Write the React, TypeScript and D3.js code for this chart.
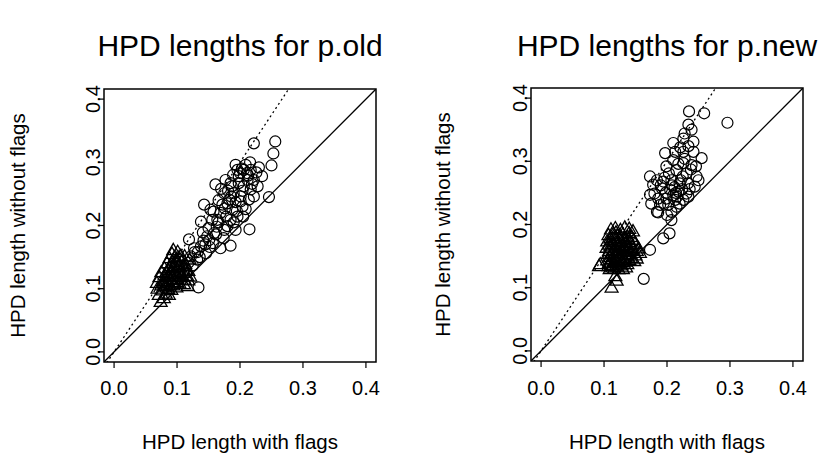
import React from "react";
import * as d3 from "d3";

type P = [number, number];

const titles = ["HPD lengths for p.old", "HPD lengths for p.new"];
const xLabel = "HPD length with flags";
const yLabel = "HPD length without flags";
const ticks = [0.0, 0.1, 0.2, 0.3, 0.4];
const dottedSlope = 1.5;

const oldCircles: P[] = [
  [0.222, 0.330], [0.256, 0.333], [0.253, 0.314], [0.250, 0.295], [0.246, 0.245],
  [0.215, 0.194], [0.185, 0.168], [0.134, 0.102], [0.169, 0.164],
  [0.193, 0.296], [0.209, 0.296], [0.217, 0.288], [0.235, 0.278], [0.228, 0.262],
  [0.222, 0.246], [0.161, 0.265], [0.177, 0.272], [0.143, 0.233], [0.153, 0.225],
  [0.138, 0.206], [0.119, 0.178], [0.151, 0.177], [0.164, 0.209], [0.185, 0.209],
  [0.193, 0.193], [0.175, 0.193], [0.204, 0.230], [0.180, 0.235], [0.190, 0.251],
  [0.206, 0.262], [0.198, 0.278], [0.212, 0.272], [0.175, 0.251], [0.169, 0.220],
  [0.148, 0.183], [0.138, 0.167], [0.146, 0.156], [0.127, 0.164], [0.159, 0.188],
  [0.180, 0.199], [0.196, 0.214], [0.188, 0.225], [0.201, 0.246], [0.217, 0.257],
  [0.185, 0.267], [0.206, 0.288], [0.196, 0.288], [0.222, 0.272], [0.183, 0.241],
  [0.172, 0.233], [0.156, 0.209], [0.132, 0.146], [0.122, 0.151], [0.200, 0.283],
  [0.213, 0.279], [0.226, 0.284], [0.187, 0.262], [0.204, 0.255], [0.214, 0.241],
  [0.193, 0.237], [0.178, 0.214], [0.163, 0.198], [0.157, 0.172], [0.142, 0.176],
  [0.128, 0.158], [0.118, 0.141], [0.125, 0.137], [0.136, 0.150], [0.141, 0.189],
  [0.166, 0.240], [0.158, 0.222], [0.195, 0.223], [0.209, 0.226], [0.198, 0.267],
  [0.230, 0.292], [0.216, 0.300], [0.189, 0.280], [0.181, 0.255], [0.170, 0.258],
  [0.150, 0.196], [0.162, 0.186], [0.174, 0.180], [0.190, 0.205], [0.205, 0.214],
  [0.203, 0.290], [0.211, 0.283], [0.219, 0.266], [0.201, 0.238], [0.186, 0.246],
  [0.176, 0.227], [0.166, 0.205], [0.152, 0.166], [0.145, 0.170], [0.133, 0.158],
];

const oldTriangles: P[] = [
  [0.074, 0.078], [0.071, 0.089], [0.079, 0.084], [0.069, 0.099], [0.077, 0.096],
  [0.082, 0.091], [0.087, 0.089], [0.068, 0.108], [0.075, 0.104], [0.081, 0.102],
  [0.086, 0.098], [0.091, 0.097], [0.072, 0.117], [0.078, 0.111], [0.083, 0.110],
  [0.089, 0.105], [0.094, 0.104], [0.099, 0.101], [0.075, 0.125], [0.080, 0.120],
  [0.085, 0.119], [0.090, 0.114], [0.095, 0.113], [0.100, 0.109], [0.104, 0.107],
  [0.111, 0.106], [0.117, 0.103], [0.080, 0.131], [0.086, 0.128], [0.091, 0.123],
  [0.096, 0.122], [0.101, 0.118], [0.106, 0.117], [0.112, 0.113], [0.118, 0.112],
  [0.084, 0.139], [0.090, 0.135], [0.094, 0.131], [0.100, 0.129], [0.105, 0.125],
  [0.110, 0.124], [0.116, 0.119], [0.121, 0.118], [0.088, 0.147], [0.093, 0.142],
  [0.098, 0.141], [0.103, 0.136], [0.109, 0.134], [0.114, 0.129], [0.092, 0.154],
  [0.097, 0.149], [0.103, 0.148], [0.108, 0.142], [0.094, 0.160], [0.101, 0.157],
  [0.106, 0.151], [0.112, 0.150], [0.120, 0.145], [0.113, 0.138], [0.118, 0.127],
  [0.083, 0.124], [0.088, 0.131], [0.092, 0.118], [0.097, 0.126], [0.102, 0.133],
  [0.107, 0.121], [0.079, 0.107], [0.084, 0.103], [0.093, 0.109], [0.099, 0.145],
];

const newCircles: P[] = [
  [0.235, 0.379], [0.259, 0.376], [0.296, 0.361], [0.234, 0.358], [0.239, 0.350],
  [0.226, 0.336], [0.242, 0.331], [0.210, 0.329], [0.197, 0.313], [0.213, 0.315],
  [0.226, 0.315], [0.242, 0.315], [0.255, 0.305], [0.210, 0.302], [0.226, 0.297],
  [0.239, 0.294], [0.199, 0.292], [0.215, 0.286], [0.231, 0.281], [0.247, 0.276],
  [0.173, 0.276], [0.184, 0.270], [0.194, 0.268], [0.207, 0.270], [0.220, 0.265],
  [0.233, 0.265], [0.250, 0.270], [0.178, 0.263], [0.192, 0.257], [0.205, 0.255],
  [0.218, 0.252], [0.231, 0.249], [0.244, 0.260], [0.173, 0.247], [0.186, 0.241],
  [0.199, 0.241], [0.213, 0.239], [0.226, 0.239], [0.234, 0.244], [0.175, 0.233],
  [0.189, 0.231], [0.202, 0.231], [0.215, 0.228], [0.184, 0.220], [0.207, 0.220],
  [0.186, 0.219], [0.207, 0.207], [0.204, 0.186], [0.194, 0.178], [0.173, 0.160],
  [0.163, 0.114], [0.228, 0.344], [0.221, 0.322], [0.234, 0.324], [0.203, 0.281],
  [0.225, 0.276], [0.238, 0.287], [0.212, 0.259], [0.198, 0.250], [0.224, 0.256],
  [0.190, 0.262], [0.180, 0.249], [0.195, 0.234], [0.220, 0.233], [0.210, 0.246],
  [0.228, 0.304], [0.218, 0.296], [0.246, 0.292], [0.200, 0.215], [0.216, 0.244],
  [0.208, 0.262], [0.222, 0.270], [0.196, 0.274], [0.214, 0.250], [0.236, 0.256],
];

const newTriangles: P[] = [
  [0.092, 0.133], [0.094, 0.136], [0.118, 0.117], [0.120, 0.110], [0.112, 0.099],
  [0.111, 0.191], [0.118, 0.193], [0.126, 0.190], [0.133, 0.194], [0.140, 0.192],
  [0.146, 0.188], [0.107, 0.182], [0.115, 0.184], [0.122, 0.181], [0.130, 0.183],
  [0.137, 0.180], [0.144, 0.179], [0.105, 0.172], [0.112, 0.174], [0.119, 0.171],
  [0.127, 0.173], [0.134, 0.170], [0.141, 0.171], [0.149, 0.168], [0.104, 0.162],
  [0.110, 0.164], [0.117, 0.161], [0.124, 0.163], [0.131, 0.160], [0.138, 0.162],
  [0.146, 0.159], [0.155, 0.161], [0.106, 0.152], [0.113, 0.154], [0.120, 0.151],
  [0.127, 0.153], [0.134, 0.150], [0.142, 0.152], [0.150, 0.150], [0.157, 0.154],
  [0.105, 0.142], [0.112, 0.144], [0.119, 0.141], [0.126, 0.143], [0.133, 0.140],
  [0.140, 0.143], [0.148, 0.141], [0.107, 0.133], [0.114, 0.135], [0.121, 0.132],
  [0.128, 0.134], [0.135, 0.131], [0.109, 0.128], [0.116, 0.129], [0.123, 0.128],
  [0.130, 0.128], [0.137, 0.136], [0.143, 0.146], [0.152, 0.145], [0.119, 0.186],
  [0.108, 0.138], [0.115, 0.139], [0.122, 0.137], [0.129, 0.139], [0.110, 0.147],
  [0.117, 0.148], [0.124, 0.146], [0.131, 0.145], [0.138, 0.148], [0.108, 0.157],
  [0.115, 0.158], [0.122, 0.156], [0.129, 0.157], [0.136, 0.155], [0.143, 0.157],
  [0.108, 0.167], [0.115, 0.168], [0.122, 0.166], [0.130, 0.165], [0.137, 0.166],
  [0.145, 0.164], [0.110, 0.177], [0.117, 0.178], [0.125, 0.177], [0.132, 0.176],
  [0.139, 0.175], [0.147, 0.174], [0.152, 0.157], [0.140, 0.185], [0.113, 0.131],
];

const FONT = "'Liberation Sans', Arial, Helvetica, sans-serif";

type PanelProps = {
  title: string;
  circles: P[];
  triangles: P[];
  box: { l: number; r: number; t: number; b: number };
  yLabX: number;
  yTickX: number;
  id: string;
};

function Panel({ title, circles, triangles, box, yLabX, yTickX, id }: PanelProps) {
  const x = d3.scaleLinear().domain([-0.016, 0.416]).range([box.l, box.r]);
  const y = d3.scaleLinear().domain([-0.016, 0.416]).range([box.b, box.t]);
  const cx = (box.l + box.r) / 2;
  const cy = (box.t + box.b) / 2;
  const tri = d3.symbol().type(d3.symbolTriangle).size(72);
  const line = d3.line<P>().x((d) => x(d[0])).y((d) => y(d[1]));
  return (
    <g>
      <defs>
        <clipPath id={id}>
          <rect x={box.l} y={box.t} width={box.r - box.l} height={box.b - box.t} />
        </clipPath>
      </defs>
      <text x={cx} y={56} textAnchor="middle" fontSize={30} fontFamily={FONT}>{title}</text>
      <g clipPath={`url(#${id})`}>
        <path d={line([[-0.016, -0.016], [0.416, 0.416]]) || ""} stroke="#000" strokeWidth={1.3} fill="none" />
        <path d={line([[-0.016, -0.016 * dottedSlope], [0.416 / dottedSlope, 0.416]]) || ""} stroke="#000" strokeWidth={1.3} strokeDasharray="2,3" fill="none" />
        {circles.map((d, i) => (
          <circle key={"c" + i} cx={x(d[0])} cy={y(d[1])} r={5.5} fill="none" stroke="#000" strokeWidth={1.2} />
        ))}
        {triangles.map((d, i) => (
          <path key={"t" + i} d={tri() || ""} transform={`translate(${x(d[0])},${y(d[1])})`} fill="none" stroke="#000" strokeWidth={1.3} />
        ))}
      </g>
      <rect x={box.l} y={box.t} width={box.r - box.l} height={box.b - box.t} fill="none" stroke="#000" strokeWidth={1.5} />
      {ticks.map((t) => (
        <g key={"x" + t}>
          <line x1={x(t)} x2={x(t)} y1={box.b} y2={box.b + 6} stroke="#000" strokeWidth={1.2} />
          <text x={x(t)} y={395} textAnchor="middle" fontSize={20} fontFamily={FONT}>{t.toFixed(1)}</text>
        </g>
      ))}
      {ticks.map((t) => (
        <g key={"y" + t}>
          <line x1={box.l - 6} x2={box.l} y1={y(t)} y2={y(t)} stroke="#000" strokeWidth={1.2} />
          <text transform={`translate(${yTickX},${y(t)}) rotate(-90)`} textAnchor="middle" fontSize={20} fontFamily={FONT}>{t.toFixed(1)}</text>
        </g>
      ))}
      <text x={cx} y={449} textAnchor="middle" fontSize={20.5} fontFamily={FONT}>{xLabel}</text>
      <text transform={`translate(${yLabX},${cy}) rotate(-90)`} textAnchor="middle" fontSize={20.5} fontFamily={FONT}>{yLabel}</text>
    </g>
  );
}

export default function App() {
  return (
    <svg width={827} height={465} style={{ position: "absolute", left: 0, top: 0, background: "#fff" }}>
      <rect width={827} height={465} fill="#fff" />
      <Panel id="clipA" title={titles[0]} circles={oldCircles} triangles={oldTriangles}
        box={{ l: 104, r: 376, t: 89, b: 362 }} yLabX={25} yTickX={100} />
      <Panel id="clipB" title={titles[1]} circles={newCircles} triangles={newTriangles}
        box={{ l: 531, r: 803, t: 88, b: 361 }} yLabX={450} yTickX={527} />
    </svg>
  );
}
